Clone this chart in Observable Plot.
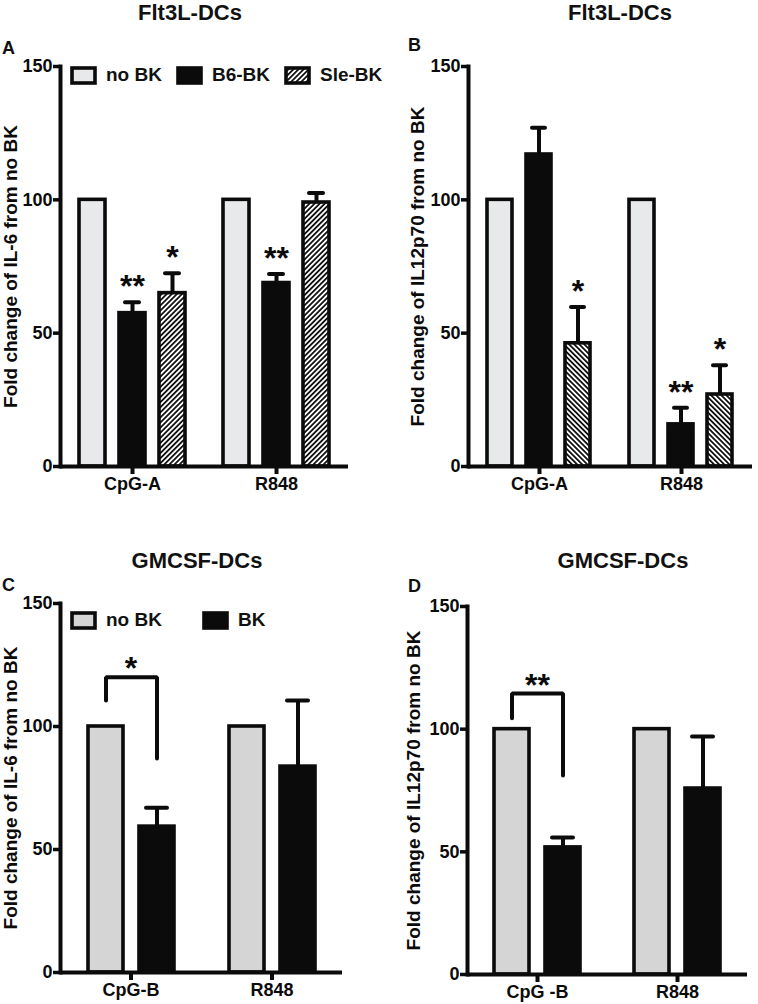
<!DOCTYPE html>
<html>
<head>
<meta charset="utf-8">
<script src="https://cdn.jsdelivr.net/npm/d3@7"></script>
<script src="https://cdn.jsdelivr.net/npm/@observablehq/plot@0.6"></script>
<style>
  body { margin: 0; background: #fff; }
  #fig { position: relative; width: 758px; height: 1004px; overflow: hidden;
         font-family: "Liberation Sans", Arial, sans-serif; font-weight: bold; color: #111; }
  .abs { position: absolute; }
  .title { font-size: 22px; transform: translate(-50%, -50%); white-space: nowrap; }
  .letter { font-size: 18px; line-height: 1; }
  .legend { display: flex; align-items: center; font-size: 19px; white-space: nowrap; }
  .legend svg { display: block; margin-right: 9px; }
</style>
</head>
<body>
<svg width="0" height="0" style="position:absolute">
  <defs>
    <pattern id="hatchA" patternUnits="userSpaceOnUse" width="3.6" height="3.6" patternTransform="rotate(45)">
      <rect width="3.6" height="3.6" fill="#fff"></rect>
      <line x1="1.8" y1="0" x2="1.8" y2="3.6" stroke="#111" stroke-width="1.8"></line>
    </pattern>
    <pattern id="hatchB" patternUnits="userSpaceOnUse" width="3.6" height="3.6" patternTransform="rotate(-45)">
      <rect width="3.6" height="3.6" fill="#fff"></rect>
      <line x1="1.8" y1="0" x2="1.8" y2="3.6" stroke="#111" stroke-width="1.8"></line>
    </pattern>
  </defs>
</svg>
<div id="fig"></div>
<script>
// ---------- data ----------
const topGroups = ["CpG-A", "R848"];
const topSeries = ["no BK", "B6-BK", "Sle-BK"];
const il6FltMean = [[100, 57.5, 65], [100, 68.8, 99]];
const il6FltErr  = [[0, 4.1, 7.5], [0, 3.4, 3.6]];
const il6FltSig  = [["", "**", "*"], ["", "**", ""]];
const il12FltMean = [[100, 117, 46.2], [100, 15.8, 27]];
const il12FltErr  = [[0, 10, 13.6], [0, 6.2, 11]];
const il12FltSig  = [["", "", "*"], ["", "**", "*"]];

const gmGroupsC = ["CpG-B", "R848"];
const gmGroupsD = ["CpG -B", "R848"];
const gmSeries = ["no BK", "BK"];
const il6GmMean = [[100, 59.3], [100, 83.7]];
const il6GmErr  = [[0, 7.7], [0, 26.9]];
const il12GmMean = [[100, 51.8], [100, 75.8]];
const il12GmErr  = [[0, 4.0], [0, 21.2]];
// bracket: [left leg end, top, right leg end]
const il6GmBracket = [110.6, 120, 87];
const il6GmBracketSig = "*";
const il12GmBracket = [104.4, 114.5, 81.1];
const il12GmBracketSig = "**";

const yTicks = [0, 50, 100, 150];
const titles = ["Flt3L-DCs", "Flt3L-DCs", "GMCSF-DCs", "GMCSF-DCs"];
const letters = ["A", "B", "C", "D"];
const yLabels = ["Fold change of IL-6 from no BK", "Fold change of IL12p70 from no BK",
                 "Fold change of IL-6 from no BK", "Fold change of IL12p70 from no BK"];

// ---------- helpers ----------
const INK = "#0b0b0b";
const FONT = '"Liberation Sans", Arial, sans-serif';
function rows(groups, series, mean, err, sig, fills) {
  const out = [];
  groups.forEach((g, i) => series.forEach((s, j) => out.push({
    group: g, series: s, value: mean[i][j], err: err[i][j],
    top: mean[i][j] + err[i][j], sig: sig ? sig[i][j] : "", fill: fills[j]
  })));
  return out;
}

function panel({data, groups, series, width, height, mL, mR, mT, mB, pIn, pOut, capInset, label, labelOffset, extra = []}) {
  const withErr = data.filter(d => d.err > 0);
  return Plot.plot({
    width, height,
    marginLeft: mL, marginRight: mR, marginTop: mT, marginBottom: mB,
    style: {fontFamily: FONT, fontWeight: "bold", fontSize: "18px",
            color: INK, background: "transparent", overflow: "visible"},
    fx: {domain: groups, padding: 0},
    x: {domain: series, axis: null, paddingInner: pIn, paddingOuter: pOut},
    y: {domain: [0, 150]},
    color: {type: "identity"},
    marks: [
      Plot.ruleX(withErr, {fx: "group", x: "series", y1: "value", y2: "top", stroke: INK, strokeWidth: 4}),
      Plot.tickY(withErr, {fx: "group", x: "series", y: "top", stroke: INK, strokeWidth: 4,
                           strokeLinecap: "round", insetLeft: capInset, insetRight: capInset}),
      Plot.barY(data, {fx: "group", x: "series", y: "value", fill: "fill", stroke: INK, strokeWidth: 3.6}),
      Plot.text(data.filter(d => d.sig), {fx: "group", x: "series", y: "top", text: "sig",
                                          fontSize: 32, fontFamily: FONT, fontWeight: "bold",
                                          lineAnchor: "bottom", dy: -5, fill: INK}),
      ...extra,
      Plot.ruleY([0], {stroke: INK, strokeWidth: 4}),
      Plot.frame({anchor: "left", stroke: INK, strokeWidth: 4, facetAnchor: "left"}),
      Plot.axisY({ticks: yTicks, tickSize: 7, tickPadding: 1, stroke: INK, strokeWidth: 3.5,
                  fontSize: 18, fontFamily: FONT, fontWeight: "bold", label: null, fill: INK}),
      Plot.axisY({ticks: [], tickSize: 0, fontSize: 19, fontFamily: FONT, fontWeight: "bold",
                  label, labelAnchor: "center", labelOffset, labelArrow: "none", fill: INK}),
      Plot.axisFx({anchor: "bottom", tickSize: 8, tickPadding: 3, stroke: INK, strokeWidth: 4,
                   fontSize: 18, fontFamily: FONT, fontWeight: "bold", label: null, fill: INK})
    ]
  });
}

function bracketMarks(group, series, br, sig) {
  const pts = [
    {group, series: series[0], y: br[0]},
    {group, series: series[0], y: br[1]},
    {group, series: series[1], y: br[1]},
    {group, series: series[1], y: br[2]}
  ];
  return [
    Plot.line(pts, {fx: "group", x: "series", y: "y", stroke: INK, strokeWidth: 4,
                    strokeLinecap: "round", strokeLinejoin: "miter", curve: "linear"}),
    Plot.text([{group, y: br[1]}], {fx: "group", y: "y", text: () => sig, fontSize: 32,
                    fontFamily: FONT, fontWeight: "bold", lineAnchor: "bottom", dy: 2, fill: INK})
  ];
}

// ---------- build ----------
const fig = document.getElementById("fig");
function place(el, left, top) {
  el.style.position = "absolute"; el.style.left = left + "px"; el.style.top = top + "px";
  fig.appendChild(el);
}
function textDiv(cls, txt, left, top) {
  const d = document.createElement("div");
  d.className = "abs " + cls; d.textContent = txt;
  d.style.left = left + "px"; d.style.top = top + "px";
  fig.appendChild(d);
}
function swatch(fill) {
  const ns = "http://www.w3.org/2000/svg";
  const s = document.createElementNS(ns, "svg");
  s.setAttribute("width", 27); s.setAttribute("height", 19);
  const r = document.createElementNS(ns, "rect");
  r.setAttribute("x", 2); r.setAttribute("y", 2); r.setAttribute("width", 23); r.setAttribute("height", 15);
  r.setAttribute("fill", fill); r.setAttribute("stroke", INK); r.setAttribute("stroke-width", 3.6);
  s.appendChild(r);
  return s;
}
function legend(items, left, top, gaps) {
  const d = document.createElement("div");
  d.className = "legend";
  items.forEach(([name, fill], i) => {
    d.appendChild(swatch(fill));
    const sp = document.createElement("span");
    sp.textContent = name;
    sp.style.marginRight = (gaps[i] || 0) + "px";
    d.appendChild(sp);
  });
  place(d, left, top);
}

const fillsTopA = ["#e8e9eb", INK, "url(#hatchA)"];
const fillsTopB = ["#e8e9eb", INK, "url(#hatchB)"];
const fillsGm = ["#d5d5d5", INK];

const pA = panel({
  data: rows(topGroups, topSeries, il6FltMean, il6FltErr, il6FltSig, fillsTopA),
  groups: topGroups, series: topSeries, width: 379, height: 500,
  mL: 60, mR: 31, mT: 66, mB: 34, pIn: 0.35, pOut: 0.475, capInset: 6,
  label: yLabels[0], labelOffset: 57
});
place(pA, 0, 0);

const pB = panel({
  data: rows(topGroups, topSeries, il12FltMean, il12FltErr, il12FltSig, fillsTopB),
  groups: topGroups, series: topSeries, width: 379, height: 500,
  mL: 88, mR: 6, mT: 66, mB: 34, pIn: 0.35, pOut: 0.475, capInset: 6,
  label: yLabels[1], labelOffset: 58
});
place(pB, 379, 0);

const pC = panel({
  data: rows(gmGroupsC, gmSeries, il6GmMean, il6GmErr, null, fillsGm),
  groups: gmGroupsC, series: gmSeries, width: 379, height: 504,
  mL: 60, mR: 37, mT: 103, mB: 32, pIn: 0.32, pOut: 0.52, capInset: 7,
  label: yLabels[2], labelOffset: 57,
  extra: bracketMarks(gmGroupsC[0], gmSeries, il6GmBracket, il6GmBracketSig)
});
place(pC, 0, 500);

const pD = panel({
  data: rows(gmGroupsD, gmSeries, il12GmMean, il12GmErr, null, fillsGm),
  groups: gmGroupsD, series: gmSeries, width: 379, height: 504,
  mL: 87, mR: 11, mT: 106, mB: 30, pIn: 0.32, pOut: 0.52, capInset: 7,
  label: yLabels[3], labelOffset: 61,
  extra: bracketMarks(gmGroupsD[0], gmSeries, il12GmBracket, il12GmBracketSig)
});
place(pD, 379, 500);

// titles & letters
textDiv("title", titles[0], 190, 13);
textDiv("title", titles[1], 620, 13);
textDiv("title", titles[2], 197, 561);
textDiv("title", titles[3], 623, 561);
textDiv("letter", letters[0], 2, 39);
textDiv("letter", letters[1], 408, 36);
textDiv("letter", letters[2], 2, 576);
textDiv("letter", letters[3], 408, 577);

// legends
legend([[topSeries[0], fillsTopA[0]], [topSeries[1], fillsTopA[1]], [topSeries[2], fillsTopA[2]]], 70, 64, [14, 14, 0]);
legend([[gmSeries[0], fillsGm[0]], [gmSeries[1], fillsGm[1]]], 70, 609, [40, 0]);
</script>
</body>
</html>
